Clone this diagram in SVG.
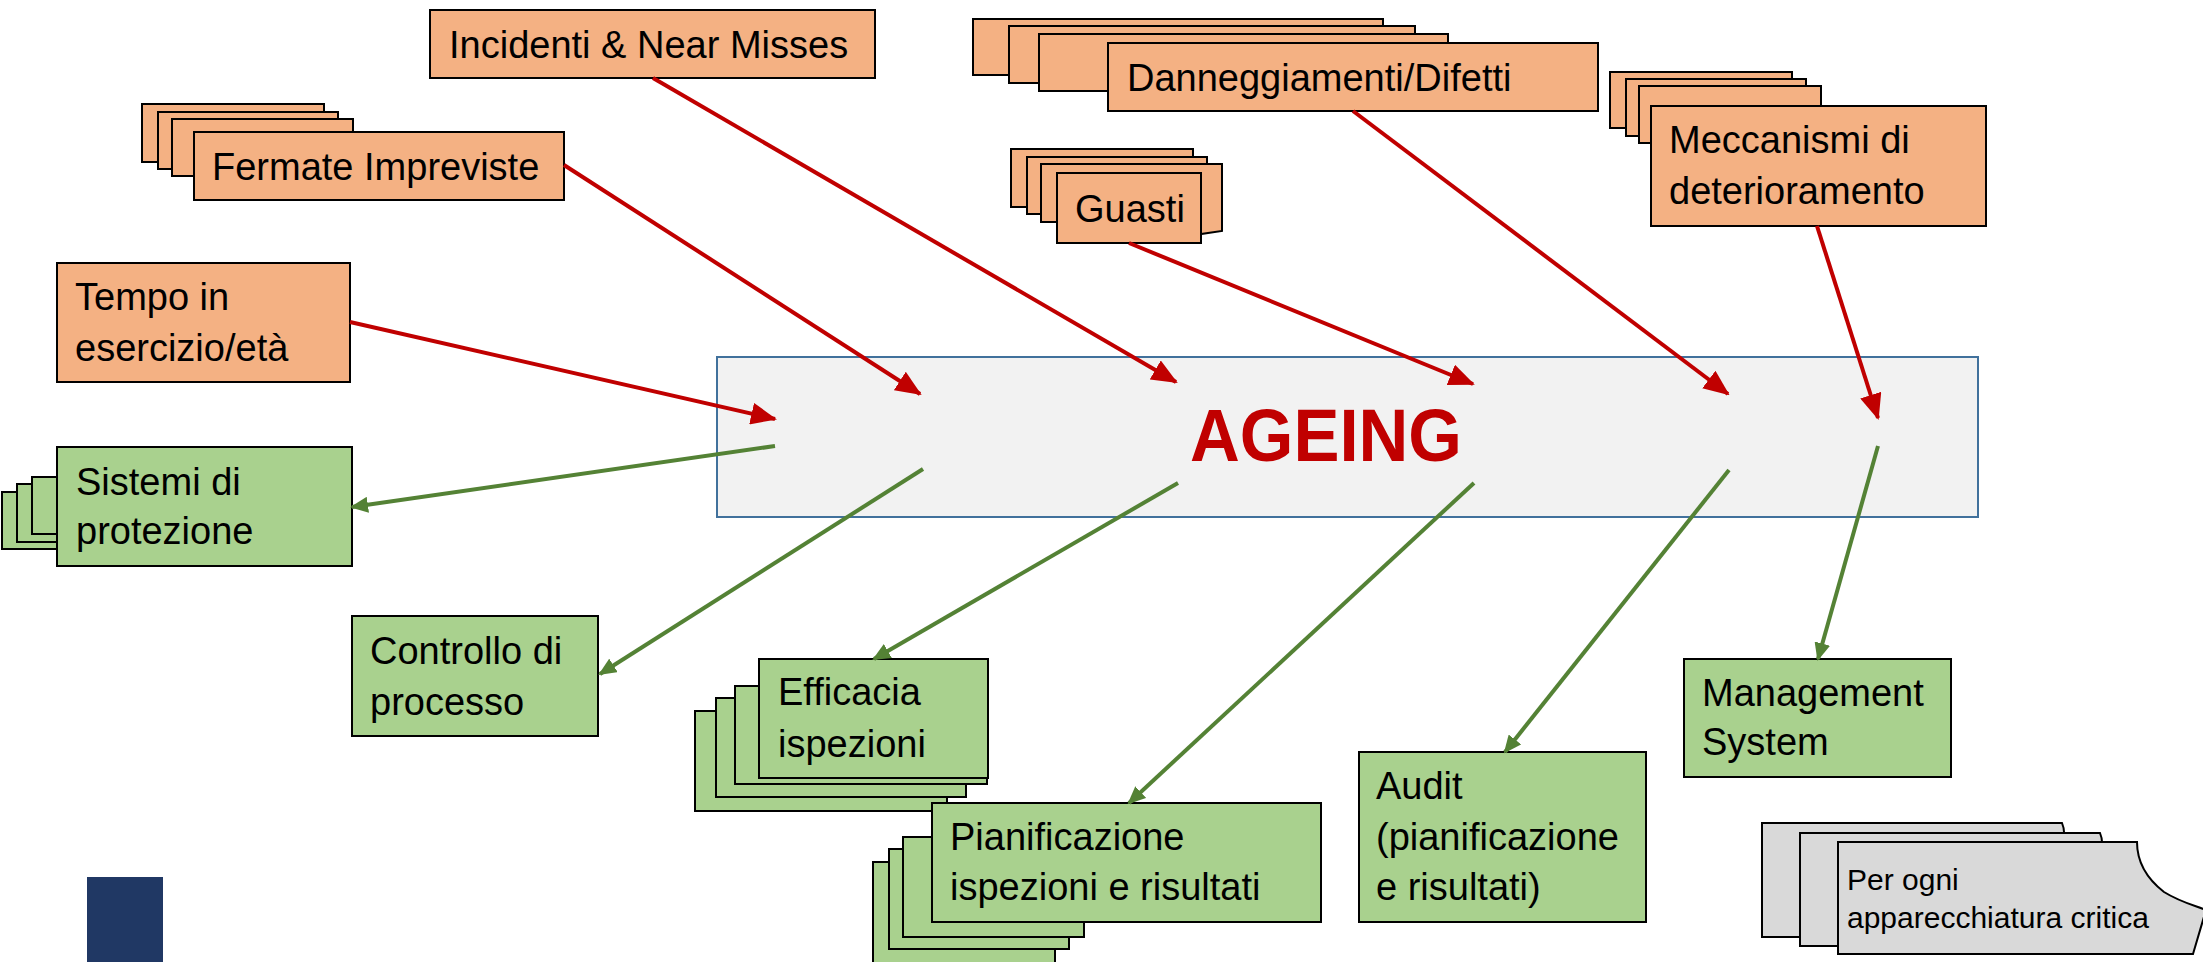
<svg xmlns="http://www.w3.org/2000/svg" width="2203" height="962" viewBox="0 0 2203 962">
<defs>
<style>
.t{font-family:"Liberation Sans",Arial,sans-serif;font-size:38px;fill:#000}
.ts{font-family:"Liberation Sans",Arial,sans-serif;font-size:30px;fill:#000}
.or{fill:#f4b183;stroke:#000;stroke-width:2}
.gr{fill:#a9d18e;stroke:#000;stroke-width:2}
.gy{fill:#d9d9d9;stroke:#000;stroke-width:2}
.red{stroke:#c00000;stroke-width:4;fill:none;marker-end:url(#ar)}
.grn{stroke:#548235;stroke-width:4;fill:none;marker-end:url(#ag)}
</style>
<marker id="ar" markerUnits="userSpaceOnUse" markerWidth="26" markerHeight="22" viewBox="0 0 26 22" refX="24" refY="11" orient="auto">
<path d="M0,0 L26,11 L0,22 z" fill="#c00000"/>
</marker>
<marker id="ag" markerUnits="userSpaceOnUse" markerWidth="18" markerHeight="16" viewBox="0 0 18 16" refX="16" refY="8" orient="auto">
<path d="M0,0 L18,8 L0,16 z" fill="#548235"/>
</marker>
</defs>
<rect width="2203" height="962" fill="#fff"/>

<g id="ageing">
<rect x="717" y="357" width="1261" height="160" fill="#f2f2f2" stroke="#41719c" stroke-width="2"/>
<text x="1326" y="461" text-anchor="middle" font-family="Liberation Sans,Arial,sans-serif" font-weight="bold" font-size="74" fill="#c00000" textLength="272" lengthAdjust="spacingAndGlyphs">AGEING</text>
</g>

<g id="incidenti">
<rect class="or" x="430" y="10" width="445" height="68"/>
<text class="t" x="449" y="58">Incidenti &amp; Near Misses</text>
</g>

<g id="fermate">
<rect class="or" x="142" y="104" width="182" height="58"/>
<rect class="or" x="158" y="112" width="180" height="57"/>
<rect class="or" x="172" y="119" width="181" height="57"/>
<rect class="or" x="194" y="132" width="370" height="68"/>
<text class="t" x="212" y="180">Fermate Impreviste</text>
</g>

<g id="tempo">
<rect class="or" x="57" y="263" width="293" height="119"/>
<text class="t" x="75" y="310">Tempo in</text>
<text class="t" x="75" y="361">esercizio/età</text>
</g>

<g id="danneggiamenti">
<rect class="or" x="973" y="19" width="410" height="56"/>
<rect class="or" x="1009" y="26" width="406" height="57"/>
<rect class="or" x="1039" y="34" width="409" height="57"/>
<rect class="or" x="1108" y="43" width="490" height="68"/>
<text class="t" x="1127" y="91">Danneggiamenti/Difetti</text>
</g>

<g id="guasti">
<rect class="or" x="1011" y="149" width="182" height="58"/>
<rect class="or" x="1027" y="157" width="180" height="57"/>
<path class="or" d="M1041,164 H1222 V231 L1201,234 V222 H1041 Z"/>
<rect class="or" x="1057" y="173" width="144" height="70"/>
<text class="t" x="1075" y="222">Guasti</text>
</g>

<g id="meccanismi">
<rect class="or" x="1610" y="72" width="182" height="56"/>
<rect class="or" x="1626" y="79" width="180" height="57"/>
<rect class="or" x="1639" y="86" width="182" height="57"/>
<rect class="or" x="1651" y="106" width="335" height="120"/>
<text class="t" x="1669" y="153">Meccanismi di</text>
<text class="t" x="1669" y="204">deterioramento</text>
</g>

<g id="sistemi">
<rect class="gr" x="2" y="492" width="120" height="57"/>
<rect class="gr" x="17" y="484" width="120" height="58"/>
<rect class="gr" x="32" y="477" width="120" height="57"/>
<rect class="gr" x="57" y="447" width="295" height="119"/>
<text class="t" x="76" y="495">Sistemi di</text>
<text class="t" x="76" y="544">protezione</text>
</g>

<g id="controllo">
<rect class="gr" x="352" y="616" width="246" height="120"/>
<text class="t" x="370" y="664">Controllo di</text>
<text class="t" x="370" y="715">processo</text>
</g>

<g id="efficacia">
<rect class="gr" x="695" y="711" width="252" height="100"/>
<rect class="gr" x="716" y="698" width="250" height="99"/>
<rect class="gr" x="735" y="686" width="252" height="98"/>
<rect class="gr" x="759" y="659" width="229" height="119"/>
<text class="t" x="778" y="705">Efficacia</text>
<text class="t" x="778" y="757">ispezioni</text>
</g>

<g id="pianificazione">
<rect class="gr" x="873" y="862" width="182" height="102"/>
<rect class="gr" x="889" y="849" width="180" height="100"/>
<rect class="gr" x="903" y="837" width="181" height="100"/>
<rect class="gr" x="932" y="803" width="389" height="119"/>
<text class="t" x="950" y="850">Pianificazione</text>
<text class="t" x="950" y="900">ispezioni e risultati</text>
</g>

<g id="audit">
<rect class="gr" x="1359" y="752" width="287" height="170"/>
<text class="t" x="1376" y="799">Audit</text>
<text class="t" x="1376" y="850">(pianificazione</text>
<text class="t" x="1376" y="900">e risultati)</text>
</g>

<g id="management">
<rect class="gr" x="1684" y="659" width="267" height="118"/>
<text class="t" x="1702" y="706">Management</text>
<text class="t" x="1702" y="755">System</text>
</g>

<g id="perogni">
<path class="gy" d="M1762,823 H2062 Q2064,828 2064,832 V937 H1762 Z"/>
<path class="gy" d="M1800,833 H2100 Q2102,838 2102,842 V946 H1800 Z"/>
<path class="gy" d="M1838,842 H2137 C2137,862 2146,878 2164,892 C2180,902 2196,906 2206,910 L2193,954 H1838 Z"/>
<text class="ts" x="1847" y="890">Per ogni</text>
<text class="ts" x="1847" y="928">apparecchiatura critica</text>
</g>

<g id="logo">
<rect x="87" y="877" width="76" height="85" fill="#203864"/>
</g>

<g id="connectors">
<line class="red" x1="350" y1="322" x2="775" y2="419"/>
<line class="red" x1="564" y1="165" x2="920" y2="394"/>
<line class="red" x1="653" y1="78" x2="1176" y2="382"/>
<line class="red" x1="1129" y1="243" x2="1473" y2="384"/>
<line class="red" x1="1353" y1="111" x2="1728" y2="394"/>
<line class="red" x1="1817" y1="226" x2="1878" y2="418"/>
<line class="grn" x1="775" y1="446" x2="352" y2="507"/>
<line class="grn" x1="923" y1="469" x2="600" y2="674"/>
<line class="grn" x1="1178" y1="483" x2="874" y2="659"/>
<line class="grn" x1="1474" y1="483" x2="1129" y2="803"/>
<line class="grn" x1="1729" y1="470" x2="1505" y2="752"/>
<line class="grn" x1="1878" y1="446" x2="1818" y2="659"/>
</g>
</svg>
